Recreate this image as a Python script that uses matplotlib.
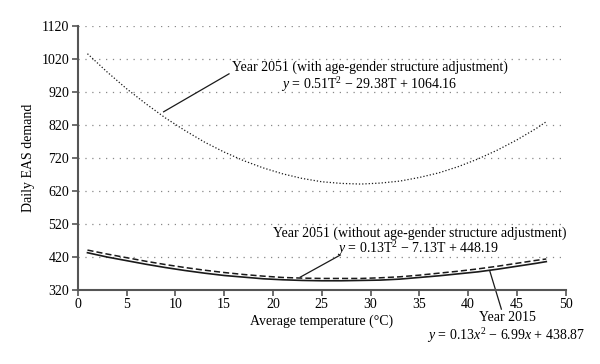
import matplotlib
matplotlib.use("Agg")
import matplotlib.pyplot as plt

plt.rcParams['font.family'] = ['Liberation Serif', 'DejaVu Serif']
plt.rcParams['mathtext.fontset'] = 'custom'
plt.rcParams['mathtext.rm'] = 'Liberation Serif'
plt.rcParams['mathtext.it'] = 'Liberation Serif:italic'

# Year 2051 with age-gender structure adjustment (dotted)
temp_adj = [1, 3, 5, 7, 9, 11, 13, 15, 17, 19, 21, 23, 25, 27, 29, 31, 33, 35, 37, 39, 41, 43, 45, 47, 48]
demand_adj = [1036, 981, 930, 884, 841, 803, 768, 738, 712, 690, 672, 658, 648, 643, 641, 644, 650, 661, 675, 694, 717, 744, 775, 810, 830]

# Year 2051 without adjustment (dashed)
temp_noadj = [1, 3, 5, 7, 9, 11, 13, 15, 17, 19, 21, 23, 25, 27, 29, 31, 33, 35, 37, 39, 41, 43, 45, 47, 48]
demand_noadj = [441, 429, 418, 407, 397, 388, 380, 373, 367, 362, 358, 356, 355, 355, 355, 357, 360, 365, 371, 377, 384, 392, 401, 410, 414]

# Year 2015 (solid)
temp_2015 = [1, 3, 5, 7, 9, 11, 13, 15, 17, 19, 21, 23, 25, 27, 29, 31, 33, 35, 37, 39, 41, 43, 45, 47, 48]
demand_2015 = [433, 420, 409, 398, 388, 379, 371, 364, 359, 354, 351, 349, 348, 348, 349, 350, 353, 358, 363, 369, 375, 383, 392, 401, 406]

x_ticks = [0, 5, 10, 15, 20, 25, 30, 35, 40, 45, 50]
y_ticks = [320, 420, 520, 620, 720, 820, 920, 1020, 1120]

fig = plt.figure(figsize=(6.0, 3.64), dpi=100)
ax = fig.add_axes([0.1295, 0.2033, 0.8135, 0.7253])

ink = '#1a1a1a'
axc = '#555555'

for yv in y_ticks[1:]:
    ax.axhline(yv, color='#888888', lw=0.9, ls=(0, (1, 4.5)), zorder=0)

ax.plot(temp_adj, demand_adj, color=ink, lw=0.9, ls=(0, (1, 1.6)))
ax.plot(temp_noadj, demand_noadj, color=ink, lw=1.1, ls=(0, (4, 2)))
ax.plot(temp_2015, demand_2015, color=ink, lw=1.2, ls='-')

ax.set_xlim(0, 50)
ax.set_ylim(320, 1120)
ax.set_xticks(x_ticks)
ax.set_yticks(y_ticks)
ax.tick_params(axis='both', labelsize=10, color=axc, width=1.2, length=4, direction='out', pad=2)
for s in ['top', 'right']:
    ax.spines[s].set_visible(False)
for s in ['left', 'bottom']:
    ax.spines[s].set_color(axc)
    ax.spines[s].set_linewidth(1.5)

ax.set_xlabel('Average temperature (°C)', fontsize=10, labelpad=2)
ax.set_ylabel('Daily EAS demand', fontsize=10, labelpad=5)

fs = 10
# Annotation: 2051 with adjustment
ax.text(29.9, 995, 'Year 2051 (with age-gender structure adjustment)', ha='center', va='center', fontsize=fs)
ax.text(29.8, 944, r'$y$ = 0.51T$^2$ − 29.38T + 1064.16', ha='center', va='center', fontsize=fs)
ax.plot([8.8, 15.5], [860, 975], color=ink, lw=0.9, clip_on=False)

# Annotation: 2051 without adjustment
ax.text(35.0, 492, 'Year 2051 (without age-gender structure adjustment)', ha='center', va='center', fontsize=fs)
ax.text(34.9, 446, r'$y$ = 0.13T$^2$ − 7.13T + 448.19', ha='center', va='center', fontsize=fs)
ax.plot([22.8, 26.9], [359, 426], color=ink, lw=0.9, clip_on=False)

# Annotation: 2015
ax.text(44.0, 236, 'Year 2015', ha='center', va='center', fontsize=fs, clip_on=False)
ax.text(43.9, 183, r'$y$ = 0.13$x^2$ − 6.99$x$ + 438.87', ha='center', va='center', fontsize=fs, clip_on=False)
ax.plot([42.2, 43.4], [379, 262], color=ink, lw=0.9, clip_on=False)

fig.savefig('out.png', dpi=100)
